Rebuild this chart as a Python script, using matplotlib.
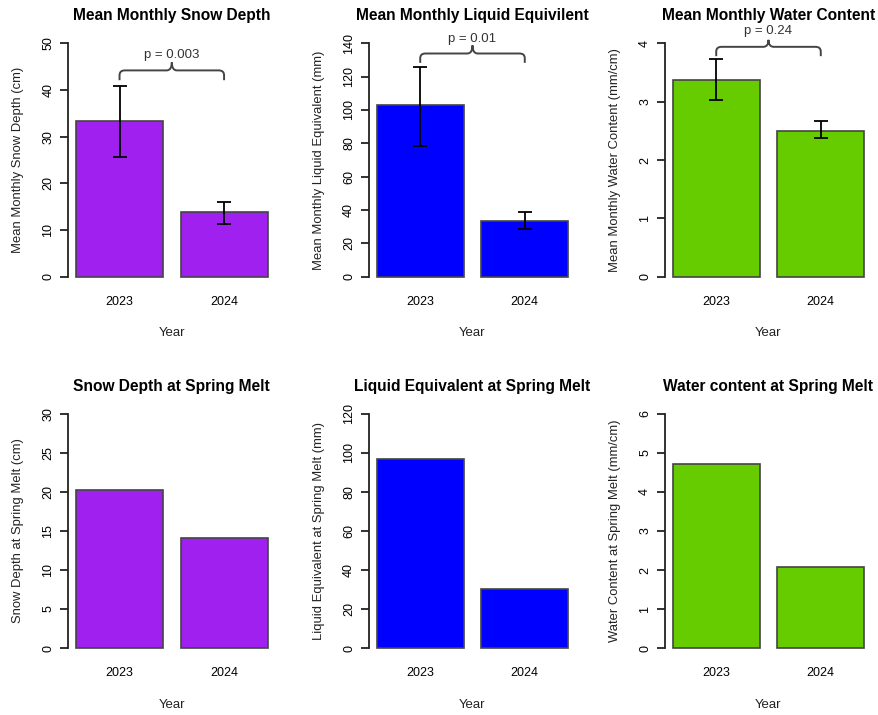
import numpy as np
import matplotlib
matplotlib.use("Agg")
import matplotlib.pyplot as plt
from matplotlib.path import Path
from matplotlib.patches import PathPatch

plt.rcParams["font.family"] = ["Liberation Sans", "DejaVu Sans"]

years = ["2023", "2024"]

# mean monthly values with error bars (upper / lower ends)
mean_depth = [33.4, 13.9]
mean_depth_hi = [40.8, 15.9]
mean_depth_lo = [25.7, 11.3]

mean_liquid = [102.9, 33.7]
mean_liquid_hi = [125.9, 38.7]
mean_liquid_lo = [78.4, 28.5]

mean_water = [3.38, 2.50]
mean_water_hi = [3.74, 2.67]
mean_water_lo = [3.03, 2.37]

# spring melt values
melt_depth = [20.3, 14.1]
melt_liquid = [96.8, 30.3]
melt_water = [4.72, 2.07]

p_values = ["p = 0.003", "p = 0.01", "p = 0.24"]
# bracket heights: line level, drop-to level, top of middle notch, text y
brackets = [
    (44.2, 42.1, 45.9, 47.6),
    (133.9, 128.3, 138.8, 142.5),
    (3.94, 3.78, 4.06, 4.21),
]

purple = "#A020F0"
blue = "#0000FF"
green = "#66CC00"

W, H = 879, 715
fig = plt.figure(figsize=(W / 100, H / 100), dpi=100)

pos = np.array([0.7, 1.9])


def make_panel(left_px, top_px, bottom_px, values, color, ymax, yticks, title, ylabel):
    ax = fig.add_axes([left_px / W, 1 - bottom_px / H, 207 / W, (bottom_px - top_px) / H])
    ax.bar(pos, values, width=1.0, color=color, edgecolor="#444444", linewidth=1.2, zorder=2)
    ax.set_xlim(0.112, 2.488)
    ax.set_ylim(-0.04 * ymax, 1.04 * ymax)
    ax.set_yticks(yticks)
    ax.set_yticklabels([str(t) for t in yticks], rotation=90, va="center")
    ax.set_xticks(pos)
    ax.set_xticklabels(years)
    for s in ["top", "right", "bottom"]:
        ax.spines[s].set_visible(False)
    ax.spines["left"].set_bounds(0, ymax)
    ax.spines["left"].set_linewidth(1.3)
    ax.spines["left"].set_color("#222222")
    ax.tick_params(axis="y", length=6, width=1.3, color="#222222", labelsize=9, pad=4)
    ax.tick_params(axis="x", length=0, labelsize=9, pad=7)
    ax.set_title(title, fontsize=11.2, fontweight="bold", pad=10)
    ax.set_xlabel("Year", fontsize=9.5, labelpad=14, color="#222222")
    ax.set_ylabel(ylabel, fontsize=9.4, labelpad=13, color="#222222")
    return ax


def add_errors(ax, values, hi, lo):
    v = np.array(values)
    err = [v - np.array(lo), np.array(hi) - v]
    ax.errorbar(pos, v, yerr=err, fmt="none", ecolor="black", elinewidth=1.3,
                capsize=5, capthick=1.3, zorder=3)


def add_bracket(ax, levels, text):
    line, drop, notch, ty = levels
    x0, x1 = pos
    xm = (x0 + x1) / 2
    rx = 0.06
    ry = (line - drop) * 0.5
    verts = [
        (x0, drop), (x0, line - ry), (x0, line), (x0 + rx, line),
        (xm - rx, line), (xm, line), (xm, notch),
        (xm, notch), (xm, line), (xm + rx, line),
        (x1 - rx, line), (x1, line), (x1, line - ry), (x1, drop),
    ]
    codes = [
        Path.MOVETO, Path.LINETO, Path.CURVE3, Path.CURVE3,
        Path.LINETO, Path.CURVE3, Path.CURVE3,
        Path.MOVETO, Path.CURVE3, Path.CURVE3,
        Path.LINETO, Path.CURVE3, Path.CURVE3, Path.LINETO,
    ]
    ax.add_patch(PathPatch(Path(verts, codes), facecolor="none", edgecolor="#444444",
                           lw=1.4, clip_on=False))
    ax.text(xm, ty, text, ha="center", va="center", fontsize=9.5, color="#333333")


ax1 = make_panel(68.3, 34, 286, mean_depth, purple, 50, [0, 10, 20, 30, 40, 50],
                 "Mean Monthly Snow Depth", "Mean Monthly Snow Depth (cm)")
add_errors(ax1, mean_depth, mean_depth_hi, mean_depth_lo)
add_bracket(ax1, brackets[0], p_values[0])

ax2 = make_panel(369, 34, 286, mean_liquid, blue, 140, [0, 20, 40, 60, 80, 100, 120, 140],
                 "Mean Monthly Liquid Equivilent", "Mean Monthly Liquid Equivalent (mm)")
add_errors(ax2, mean_liquid, mean_liquid_hi, mean_liquid_lo)
add_bracket(ax2, brackets[1], p_values[1])

ax3 = make_panel(665, 34, 286, mean_water, green, 4, [0, 1, 2, 3, 4],
                 "Mean Monthly Water Content", "Mean Monthly Water Content (mm/cm)")
add_errors(ax3, mean_water, mean_water_hi, mean_water_lo)
add_bracket(ax3, brackets[2], p_values[2])

make_panel(68.3, 404.6, 657.4, melt_depth, purple, 30, [0, 5, 10, 15, 20, 25, 30],
           "Snow Depth at Spring Melt", "Snow Depth at Spring Melt (cm)")
make_panel(369, 404.6, 657.4, melt_liquid, blue, 120, [0, 20, 40, 60, 80, 100, 120],
           "Liquid Equivalent at Spring Melt", "Liquid Equivalent at Spring Melt (mm)")
make_panel(665, 404.6, 657.4, melt_water, green, 6, [0, 1, 2, 3, 4, 5, 6],
           "Water content at Spring Melt", "Water Content at Spring Melt (mm/cm)")

fig.savefig("out.png", dpi=100)
